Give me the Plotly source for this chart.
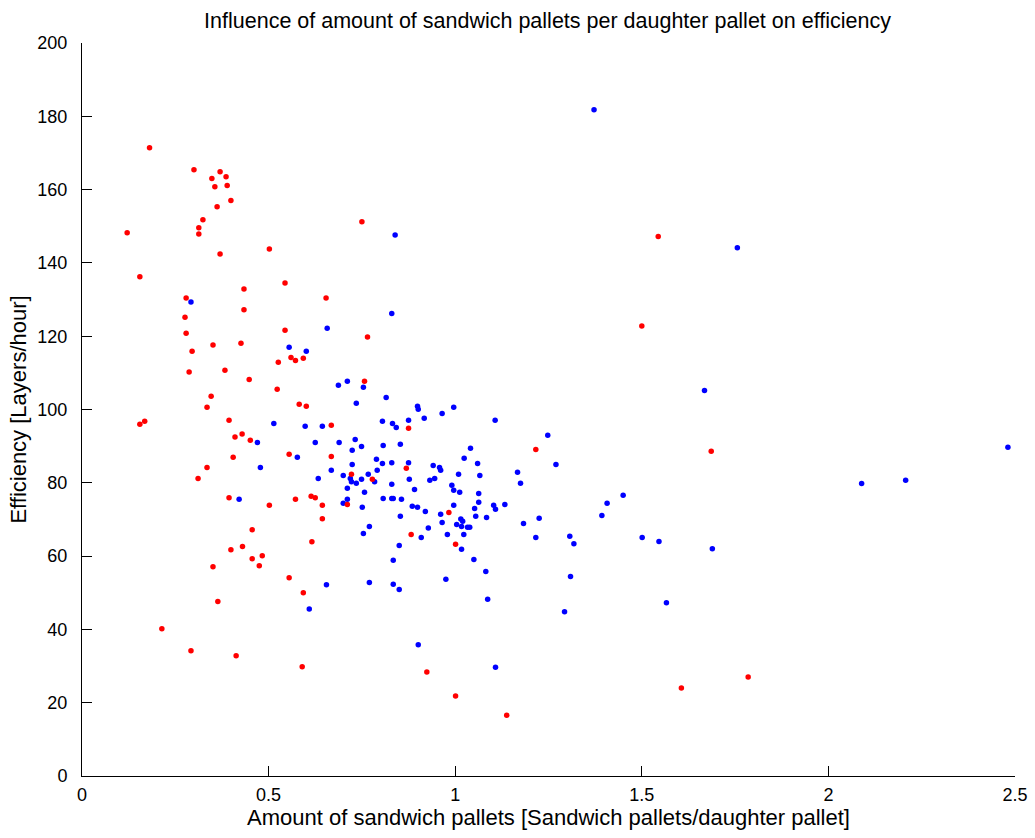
import plotly.graph_objects as go

# Red series (x: sandwich pallets per daughter pallet, y: efficiency)
red_x = [0.181, 0.300, 0.370, 0.348, 0.386, 0.356, 0.389, 0.399, 0.362, 0.324,
         0.313, 0.313, 0.121, 0.370, 0.502, 0.155, 0.544, 0.434, 0.279, 0.654,
         0.276, 0.434, 0.279, 0.351, 0.426, 0.544, 0.295, 0.560, 0.572, 0.593,
         0.526, 0.287, 0.383, 0.448, 0.523, 0.346, 0.335, 0.582, 0.601, 0.155,
         0.168, 0.394, 0.668, 0.410, 0.429, 0.451, 0.405, 0.555, 0.668, 0.335,
         0.311, 0.394, 0.572, 0.614, 0.625, 0.502, 0.644, 0.644, 0.456, 0.616,
         0.399, 0.430, 0.456, 0.483, 0.475, 0.351, 0.555, 0.593, 0.364, 0.214,
         0.292, 0.413, 0.590, 0.765, 0.757, 0.875, 0.722, 0.778, 0.869, 0.711,
         0.983, 0.882, 1.001, 0.924, 1.001, 1.138, 1.216, 1.686, 1.544, 1.500,
         1.606, 1.785, 0.750]
red_y = [171.4, 165.4, 164.9, 163.0, 163.5, 160.8, 161.1, 157.0, 155.3, 151.8,
         149.6, 147.9, 148.2, 142.4, 143.8, 136.2, 134.5, 132.9, 130.4, 130.4,
         125.2, 127.2, 120.8, 117.6, 118.1, 121.6, 115.9, 114.2, 113.4, 114.0,
         112.9, 110.2, 110.7, 108.2, 105.5, 103.6, 100.6, 101.4, 100.9, 96.0,
         96.8, 97.1, 95.7, 92.5, 93.3, 91.6, 87.0, 87.8, 87.2, 84.2,
         81.2, 75.9, 75.5, 76.3, 75.9, 73.9, 73.9, 70.2, 67.2, 63.9,
         61.7, 62.6, 59.3, 60.1, 57.4, 57.1, 54.1, 50.0, 47.6, 40.2,
         34.2, 32.8, 29.8, 119.8, 107.7, 94.9, 82.3, 81.0, 84.0, 74.1,
         71.9, 65.9, 63.2, 28.4, 21.8, 16.6, 89.1, 88.6, 147.2, 122.8,
         24.0, 27.0, 151.2]

# Blue series
blue_x = [0.292, 0.657, 0.555, 0.601, 0.514, 0.598, 0.644, 0.470, 0.625, 0.577,
          0.668, 0.478, 0.633, 0.421, 0.655, 0.609, 0.830, 0.687, 0.711, 0.754,
          0.815, 0.735, 0.899, 0.901, 0.996, 0.965, 0.917, 1.107, 0.805, 0.832,
          0.842, 0.875, 0.689, 0.732, 0.749, 0.724, 0.807, 0.853, 1.041, 1.024,
          1.060, 0.724, 0.789, 0.805, 0.830, 0.875, 0.941, 0.958, 0.961, 1.009,
          1.066, 1.167, 1.175, 0.700, 0.719, 0.722, 0.735, 0.749, 0.767, 0.784,
          0.791, 0.877, 0.830, 0.932, 0.945, 0.991, 0.996, 1.012, 1.063, 0.891,
          0.711, 0.757, 0.711, 0.807, 0.830, 0.834, 0.856, 0.700, 0.751, 0.885,
          0.899, 0.920, 0.961, 0.996, 1.052, 1.055, 1.063, 1.084, 1.103, 1.108,
          1.133, 1.183, 0.853, 0.770, 0.754, 0.850, 0.834, 0.909, 0.928, 0.965,
          0.979, 1.004, 1.015, 1.020, 1.017, 1.033, 1.039, 1.023, 1.017, 1.050,
          1.082, 1.087, 0.975, 0.834, 0.850, 0.770, 0.901, 1.668, 1.689, 1.248,
          1.270, 1.225, 1.216, 1.307, 1.318, 1.393, 1.407, 1.450, 1.501, 1.546,
          1.309, 1.293, 1.108, 1.566, 2.089, 2.207, 2.481, 1.372, 1.756, 0.839]
blue_y = [129.3, 122.2, 117.0, 115.9, 96.2, 95.4, 95.4, 91.0, 91.0, 87.0,
          83.4, 84.2, 81.2, 75.5, 52.2, 45.6, 126.2, 106.6, 107.7, 106.1,
          103.3, 101.7, 100.9, 100.1, 100.6, 98.9, 97.6, 97.1, 96.8, 96.2,
          95.1, 97.1, 91.0, 91.8, 89.9, 88.9, 90.2, 90.5, 89.4, 86.7,
          85.3, 85.0, 86.4, 85.3, 85.5, 85.5, 84.7, 84.2, 83.4, 82.3,
          82.0, 82.9, 79.9, 82.0, 81.2, 80.3, 79.9, 81.0, 82.3, 80.3,
          83.4, 81.0, 79.6, 80.7, 81.2, 79.3, 78.0, 77.4, 77.1, 78.2,
          78.5, 77.4, 75.5, 75.7, 75.7, 75.7, 75.5, 74.4, 73.3, 73.6,
          73.3, 72.2, 71.4, 73.9, 73.0, 70.9, 74.7, 70.5, 73.9, 72.8,
          74.1, 68.9, 70.9, 68.1, 66.2, 62.9, 58.9, 65.1, 67.7, 69.2,
          65.9, 68.6, 70.1, 69.5, 68.1, 67.9, 67.9, 65.9, 61.9, 59.1,
          55.8, 48.2, 53.7, 52.3, 50.9, 52.8, 35.8, 105.2, 62.0, 93.0,
          85.0, 70.3, 65.1, 65.4, 63.4, 71.1, 74.4, 76.6, 65.1, 64.0,
          54.4, 44.8, 29.7, 47.3, 79.8, 80.7, 89.7, 181.8, 144.1, 147.6]

x_ticks = [0, 0.5, 1, 1.5, 2, 2.5]
x_tick_labels = ["0", "0.5", "1", "1.5", "2", "2.5"]
y_ticks = [0, 20, 40, 60, 80, 100, 120, 140, 160, 180, 200]

FONT = "Liberation Sans"

fig = go.Figure()
fig.add_trace(go.Scatter(x=blue_x, y=blue_y, mode="markers",
                         marker=dict(color="#0000FF", size=5.5, symbol="circle"),
                         showlegend=False))
fig.add_trace(go.Scatter(x=red_x, y=red_y, mode="markers",
                         marker=dict(color="#FF0000", size=5.5, symbol="circle"),
                         showlegend=False))

fig.update_layout(
    width=1035, height=838,
    margin=dict(l=82, r=20, t=43, b=62),
    paper_bgcolor="white", plot_bgcolor="white",
    font=dict(family=FONT, size=18, color="black"),
    title=dict(text="Influence of amount of sandwich pallets per daughter pallet on efficiency",
               x=0.529, xanchor="center", y=1 - 20 / 838, yanchor="middle", yref="container",
               font=dict(family=FONT, size=21.5, color="black")),
)
fig.update_xaxes(
    range=[0, 2.5], tickvals=x_ticks, ticktext=x_tick_labels,
    showline=True, linecolor="black", linewidth=1,
    ticks="inside", ticklen=10, tickcolor="black",
    ticklabelstandoff=2,
    showgrid=False, zeroline=False,
    title=dict(text="Amount of sandwich pallets [Sandwich pallets/daughter pallet]",
               font=dict(family=FONT, size=22), standoff=0),
    automargin=False,
)
fig.update_yaxes(
    range=[0, 200], tickvals=y_ticks,
    showline=True, linecolor="black", linewidth=1,
    ticks="inside", ticklen=10, tickcolor="black",
    ticklabelstandoff=10,
    showgrid=False, zeroline=False,
    title=dict(text="Efficiency [Layers/hour]", font=dict(family=FONT, size=22), standoff=4),
    automargin=False,
)

fig.write_html("out.html")
